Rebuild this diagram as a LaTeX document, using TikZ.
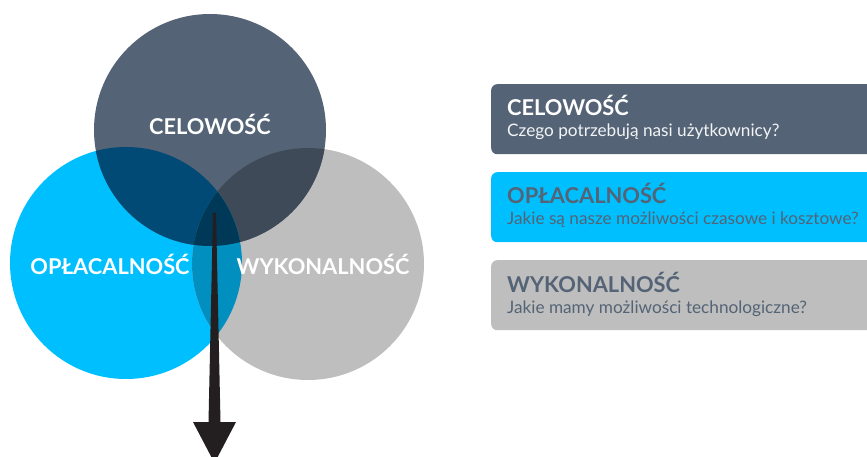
\documentclass[tikz,border=0pt]{standalone}
\usepackage{fontspec}
\setmainfont{Lato}
\definecolor{slate}{RGB}{84,99,117}
\definecolor{skyb}{RGB}{0,191,255}
\definecolor{lgray}{RGB}{190,190,190}
\definecolor{slateblue}{RGB}{0,74,117}
\definecolor{slategray}{RGB}{63,74,88}
\definecolor{bluegray}{RGB}{0,143,191}
\definecolor{triple}{RGB}{0,56,88}
\definecolor{arrowc}{RGB}{35,31,32}
\definecolor{offwhite}{RGB}{242,244,246}
\begin{document}
\begin{tikzpicture}[x=1pt,y=-1pt,
  ctext/.style={anchor=base, inner sep=0pt, text=white, font=\bfseries\fontsize{21.8}{24}\selectfont},
  btitle/.style={anchor=base west, inner sep=0pt, font=\bfseries\fontsize{21.8}{24}\selectfont},
  bsub/.style={anchor=base west, inner sep=0pt, font=\fontsize{17.2}{20}\selectfont},
  infobox/.style={anchor=north west, rounded corners=6pt, minimum width=400pt, minimum height=70pt, inner sep=0pt}]
\useasboundingbox (0,0) rectangle (867,457);
\clip (0,0) rectangle (867,457);
\coordinate (cC) at (210,130);
\coordinate (cO) at (126,263);
\coordinate (cW) at (308,264);
\def\R{116}
% circles
\fill[skyb] (cO) circle (\R);
\fill[lgray] (cW) circle (\R);
\fill[slate] (cC) circle (\R);
\begin{scope}
  \clip (cC) circle (\R);
  \fill[slateblue] (cO) circle (\R);
  \fill[slategray] (cW) circle (\R);
\end{scope}
\begin{scope}
  \clip (cO) circle (\R);
  \fill[bluegray] (cW) circle (\R);
  \clip (cW) circle (\R);
  \fill[triple] (cC) circle (\R);
\end{scope}
% circle labels
\node[ctext] (lC) at (210,135) {CELOWOŚĆ};
\node[ctext] (lO) at (110,274) {OPŁACALNOŚĆ};
\node[ctext] (lW) at (323,274) {WYKONALNOŚĆ};
% arrow
\coordinate (aTop) at (214.5,213);
\coordinate (aTip) at (214.5,463);
\fill[arrowc] (213,213) -- (216,213) -- (220.5,422) -- (236,422) -- (aTip) -- (193,422) -- (208.5,422) -- cycle;
% boxes
\node[infobox, fill=slate] (b1) at (491,84) {};
\node[infobox, fill=skyb] (b2) at (491,172) {};
\node[infobox, fill=lgray] (b3) at (491,260) {};
\node[btitle, text=white] (t1) at (507,116) {CELOWOŚĆ};
\node[bsub, text=offwhite] (s1) at (507,137) {Czego potrzebują nasi użytkownicy?};
\node[btitle, text=slate] (t2) at (507,204) {OPŁACALNOŚĆ};
\node[bsub, text=slate] (s2) at (507,225) {Jakie są nasze możliwości czasowe i kosztowe?};
\node[btitle, text=slate] (t3) at (507,292) {WYKONALNOŚĆ};
\node[bsub, text=slate] (s3) at (507,313) {Jakie mamy możliwości technologiczne?};
\end{tikzpicture}
\end{document}
